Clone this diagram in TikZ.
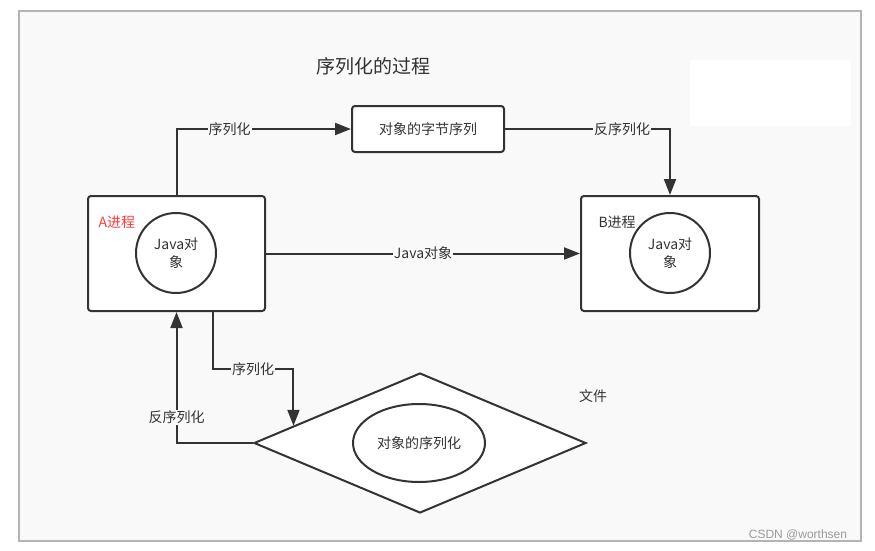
\documentclass[tikz,border=0pt]{standalone}
\usepackage{fontspec}
\setmainfont{Noto Sans CJK SC}
\newfontfamily\wmfont{Liberation Sans}
\usetikzlibrary{arrows.meta,shapes.geometric,calc}
\definecolor{bgc}{HTML}{F9F9F9}
\definecolor{framec}{HTML}{B4B4B4}
\definecolor{linec}{HTML}{333333}
\definecolor{redc}{HTML}{FF3B3B}
\definecolor{wmc}{HTML}{9A9A9A}
\begin{document}
\begin{tikzpicture}[x=1pt,y=-1pt,
  txt/.style={font=\fontsize{14}{17}\selectfont, text=linec},
  box/.style={txt, draw=linec, line width=2pt, fill=white, rounded corners=3pt, inner sep=0pt},
  obj/.style={txt, circle, draw=linec, line width=2pt, fill=white, minimum size=80pt, inner sep=0pt, align=center},
  edge/.style={draw=linec, line width=2pt, -{Triangle[length=16pt,width=12pt]}},
  lbl/.style={txt, fill=bgc, inner sep=1pt}
]
\useasboundingbox (0,0) rectangle (875,551);
\fill[white] (0,0) rectangle (875,551);
\draw[framec, line width=2pt, fill=bgc] (19,11) rectangle (861,541);
\fill[white] (690,60) rectangle (851,126);

\node[txt, font=\fontsize{19}{22}\selectfont] (title) at (373,66) {序列化的过程};

\node[box, minimum width=152pt, minimum height=46pt] (bytes) at (428,129) {对象的字节序列};
\node[box, minimum width=177pt, minimum height=115pt] (A) at (176.5,253.5) {};
\node[box, minimum width=178pt, minimum height=115pt] (B) at (670,253.5) {};
\node[obj] (oa) at (176,253) {Java对\\[1pt]象};
\node[obj] (ob) at (670,253) {Java对\\[1pt]象};
\node[txt, text=redc, anchor=west] (la) at (95,222) {A进程};
\node[txt, anchor=west] (lb) at (595,222) {B进程};

\node[diamond, draw=linec, line width=2pt, fill=white, inner sep=0pt, aspect=2.37,
      minimum width=332pt, minimum height=140pt] (D) at (420,443) {};
\node[txt, ellipse, draw=linec, line width=2pt, fill=white, inner sep=0pt,
      minimum width=132pt, minimum height=78pt] (E) at (419,443) {对象的序列化};
\node[txt] (file) at (593,396) {文件};
\node[font=\wmfont\fontsize{12}{14}\selectfont, text=wmc] (wm) at (798,535) {CSDN @worthsen};

\draw[edge] (A.north) |- node[lbl, pos=0.652] {序列化} (bytes.west);
\draw[edge] (bytes.east) -| node[lbl, pos=0.355] {反序列化} (B.north);
\draw[edge] (A.east) -- node[lbl, pos=0.5] {Java对象} (B.west);

\coordinate (a1) at ($(A.south west)+(126,0)$);
\coordinate (dp) at ($(D.west)!0.2424!(D.north)$);
\draw[edge] (a1) -- ++(0,57) -| node[lbl, pos=0.25] {序列化} (dp);
\draw[edge] (D.west) -| node[lbl, pos=0.598] {反序列化} (A.south);
\end{tikzpicture}
\end{document}
